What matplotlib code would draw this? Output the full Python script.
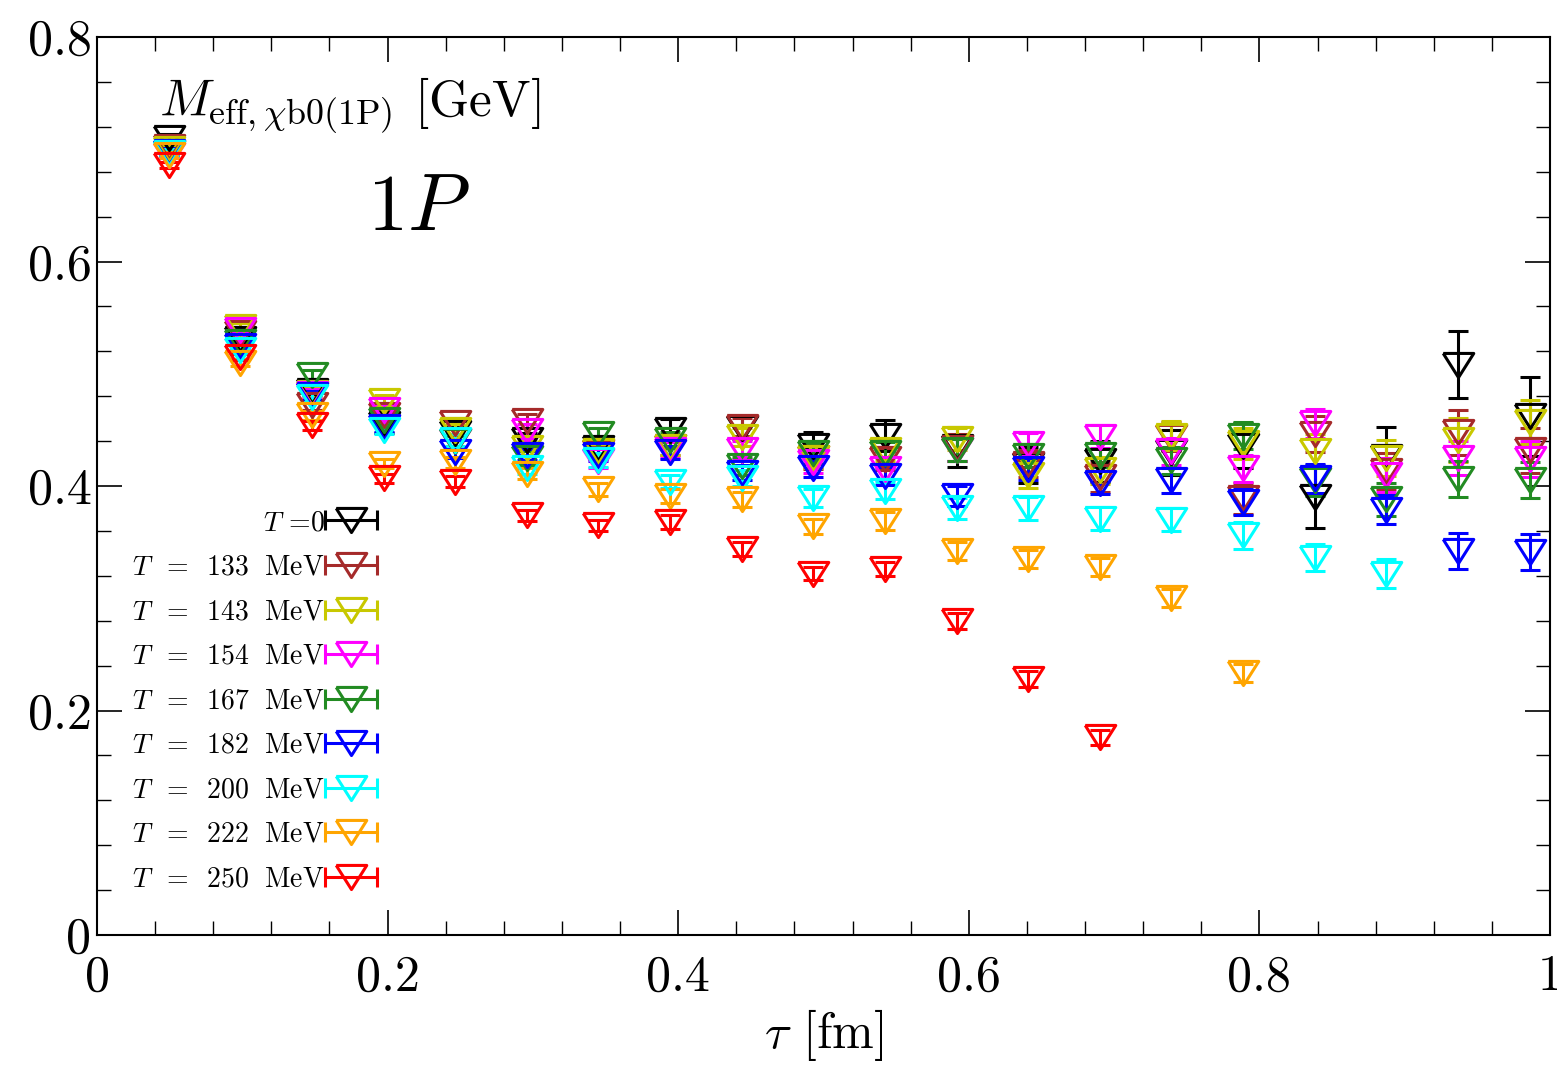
import matplotlib
matplotlib.use('Agg')
import matplotlib.pyplot as plt
import numpy as np
from matplotlib.ticker import MultipleLocator, FuncFormatter
from matplotlib.container import ErrorbarContainer
from matplotlib.legend_handler import HandlerErrorbar

plt.rcParams['font.family'] = 'serif'
plt.rcParams['font.serif'] = ['cmr10']
plt.rcParams['mathtext.fontset'] = 'cm'
plt.rcParams['axes.unicode_minus'] = False

# lattice time slices
a_fm = 0.0493
n_slices = np.arange(1, 21)

labels = ['$T$ =0', r'$T\;\;=\;\;133\;$ MeV', r'$T\;\;=\;\;143\;$ MeV', r'$T\;\;=\;\;154\;$ MeV',
          r'$T\;\;=\;\;167\;$ MeV', r'$T\;\;=\;\;182\;$ MeV', r'$T\;\;=\;\;200\;$ MeV',
          r'$T\;\;=\;\;222\;$ MeV', r'$T\;\;=\;\;250\;$ MeV']
colors = ['black', '#a52a2a', '#c8c800', 'magenta', '#228b22', 'blue', 'cyan', 'orange', 'red']

# effective masses [GeV], one list per temperature (None = no point)
m_T0   = [0.710, 0.531, 0.485, 0.455, 0.447, 0.441, 0.434, 0.450, 0.452, 0.436,
          0.445, 0.435, 0.419, 0.422, 0.430, 0.436, 0.390, 0.426, 0.508, 0.462]
m_T133 = [0.702, 0.536, 0.472, 0.463, 0.456, 0.458, 0.430, 0.435, 0.453, 0.425,
          0.424, 0.434, 0.420, 0.408, 0.444, 0.389, 0.446, 0.413, 0.448, 0.432]
m_T143 = [0.700, 0.542, 0.483, 0.476, 0.450, 0.434, 0.431, 0.435, 0.444, 0.425,
          0.432, 0.442, 0.410, 0.414, 0.445, 0.438, 0.431, 0.425, 0.441, 0.457]
m_T154 = [0.695, 0.539, 0.482, 0.468, 0.440, 0.449, 0.422, 0.432, 0.432, 0.421,
          0.415, 0.432, 0.437, 0.444, 0.431, 0.416, 0.456, 0.410, 0.425, 0.424]
m_T167 = [0.697, 0.528, 0.499, 0.459, 0.440, 0.425, 0.446, 0.441, 0.418, 0.429,
          0.429, 0.432, 0.427, 0.428, 0.423, 0.445, 0.405, 0.388, 0.406, 0.405]
m_T182 = [0.698, 0.525, 0.481, 0.453, 0.430, 0.428, 0.428, 0.430, 0.412, 0.416,
          0.409, 0.391, 0.415, 0.403, 0.405, 0.386, 0.407, 0.379, 0.342, 0.341]
m_T200 = [0.697, 0.521, 0.479, 0.450, 0.441, 0.416, 0.423, 0.404, 0.407, 0.389,
          0.396, 0.380, 0.380, 0.371, 0.370, 0.356, 0.336, 0.322, None, None]
m_T222 = [0.695, 0.510, 0.463, 0.420, 0.421, 0.411, 0.397, 0.391, 0.388, 0.364,
          0.369, 0.342, 0.335, 0.328, 0.300, 0.233, None, None, None, None]
m_T250 = [0.686, 0.515, 0.454, 0.407, 0.404, 0.374, 0.365, 0.368, 0.344, 0.322,
          0.326, 0.280, 0.228, 0.176, None, None, None, None, None, None]

e_T0   = [0.004, 0.003, 0.004, 0.008, 0.006, 0.006, 0.007, 0.010, 0.010, 0.012,
          0.014, 0.018, 0.016, 0.018, 0.020, 0.020, 0.027, 0.027, 0.030, 0.035]
e_T133 = [0.003, 0.003, 0.004, 0.005, 0.005, 0.006, 0.006, 0.007, 0.008, 0.010,
          0.010, 0.012, 0.012, 0.013, 0.013, 0.014, 0.016, 0.016, 0.020, 0.020]
e_T143 = [0.003, 0.003, 0.004, 0.005, 0.005, 0.006, 0.006, 0.007, 0.008, 0.009,
          0.010, 0.010, 0.012, 0.012, 0.013, 0.014, 0.015, 0.016, 0.020, 0.020]
e_T154 = [0.003, 0.003, 0.004, 0.005, 0.005, 0.006, 0.006, 0.007, 0.008, 0.009,
          0.010, 0.010, 0.010, 0.010, 0.012, 0.012, 0.013, 0.015, 0.015, 0.016]
e_T167 = [0.003, 0.003, 0.004, 0.005, 0.005, 0.006, 0.006, 0.007, 0.008, 0.009,
          0.010, 0.010, 0.010, 0.011, 0.012, 0.012, 0.014, 0.015, 0.016, 0.016]
e_T182 = [0.003, 0.003, 0.004, 0.005, 0.005, 0.005, 0.006, 0.006, 0.007, 0.008,
          0.008, 0.009, 0.010, 0.010, 0.011, 0.012, 0.013, 0.013, 0.016, 0.016]
e_T200 = [0.003, 0.003, 0.004, 0.004, 0.005, 0.005, 0.006, 0.006, 0.007, 0.008,
          0.008, 0.009, 0.010, 0.010, 0.010, 0.012, 0.012, 0.013, None, None]
e_T222 = [0.003, 0.003, 0.004, 0.004, 0.005, 0.005, 0.006, 0.006, 0.007, 0.007,
          0.008, 0.008, 0.008, 0.008, 0.008, 0.008, None, None, None, None]
e_T250 = [0.003, 0.003, 0.004, 0.004, 0.005, 0.005, 0.005, 0.006, 0.006, 0.006,
          0.006, 0.007, 0.007, 0.007, None, None, None, None, None, None]

masses = [m_T0, m_T133, m_T143, m_T154, m_T167, m_T182, m_T200, m_T222, m_T250]
errors = [e_T0, e_T133, e_T143, e_T154, e_T167, e_T182, e_T200, e_T222, e_T250]

# flat downward triangle
tri = [(-1, 0.79), (1, 0.79), (0, -0.79), (-1, 0.79)]

fig = plt.figure(figsize=(15.57, 10.67), dpi=100)
ax = fig.add_axes([0.0623, 0.1237, 0.9332, 0.8416])

tau = n_slices * a_fm
handles = []
for m, e, c, lab in zip(masses, errors, colors, labels):
    m = np.array([np.nan if v is None else v for v in m])
    e = np.array([np.nan if v is None else v for v in e])
    ok = ~np.isnan(m)
    eb = ax.errorbar(tau[ok], m[ok], yerr=e[ok], ls='none', marker=tri, ms=22,
                     mfc='none', mec=c, mew=2.2, ecolor=c, elinewidth=2.2,
                     capsize=7, capthick=2.2)
    handles.append(ErrorbarContainer(eb.lines, has_xerr=True, has_yerr=False, label=lab))

ax.set_xlim(0, 1)
ax.set_ylim(0, 0.8)
ax.xaxis.set_major_locator(MultipleLocator(0.2))
ax.xaxis.set_minor_locator(MultipleLocator(0.04))
ax.yaxis.set_major_locator(MultipleLocator(0.2))
ax.yaxis.set_minor_locator(MultipleLocator(0.04))
fmt = FuncFormatter(lambda v, pos: '%g' % round(v, 3))
ax.xaxis.set_major_formatter(fmt)
ax.yaxis.set_major_formatter(fmt)
ax.tick_params(which='both', direction='in', top=True, right=True, labelsize=36)
ax.tick_params(which='major', length=18, width=1.2)
ax.tick_params(which='minor', length=10, width=1.0)
ax.tick_params(axis='x', pad=14)
ax.tick_params(axis='y', pad=4)
for s in ax.spines.values():
    s.set_linewidth(1.5)

ax.set_xlabel(r'$\tau$ [fm]', fontsize=36, labelpad=5)
ax.text(0.043, 0.913, r'$M_{\mathrm{eff},\chi\mathrm{b0(1P)}}$ [GeV]',
        transform=ax.transAxes, fontsize=37)
ax.text(0.186, 0.785, r'$1P$', transform=ax.transAxes, fontsize=58)

ax.legend(handles=handles, loc='lower right', bbox_to_anchor=(0.193, 0.0475),
          frameon=False, markerfirst=False, fontsize=20, handlelength=1.9,
          handletextpad=0.0, labelspacing=0.655, borderpad=0, borderaxespad=0,
          handler_map={ErrorbarContainer: HandlerErrorbar(xerr_size=0.95)})

fig.savefig('out.png', dpi=100)
